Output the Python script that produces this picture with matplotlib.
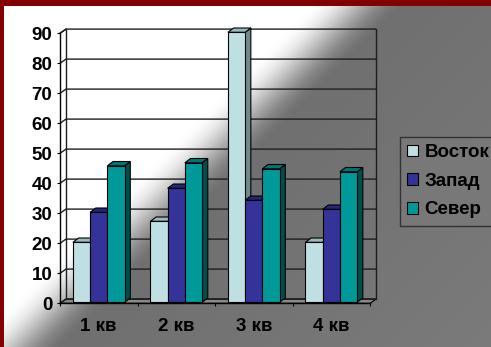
import numpy as np
import matplotlib
matplotlib.use("Agg")
import matplotlib.pyplot as plt
from matplotlib.patches import Polygon, Rectangle, Patch

# ---- data -------------------------------------------------------------
categories = ["1 кв", "2 кв", "3 кв", "4 кв"]
series_names = ["Восток", "Запад", "Север"]
vostok = [20, 27, 90, 20]
zapad = [30, 38, 34, 31]
sever = [45.5, 46.5, 44.5, 43.5]
yticks = list(range(0, 91, 10))

# ---- styling ----------------------------------------------------------
front_colors = ["#BEE0E3", "#333399", "#009999"]
top_colors = ["#9BB8BB", "#26267A", "#007575"]
side_colors = ["#6F8B8D", "#1C1C55", "#004F4F"]
FONT = "Liberation Sans"
FS = 13.5

W, H, DPI = 491, 347, 100
fig = plt.figure(figsize=(W / DPI, H / DPI), dpi=DPI)

# ---- slide background: diagonal white-to-grey gradient, red frame -----
bg = fig.add_axes([0, 0, 1, 1], zorder=-10)
yy, xx = np.mgrid[0:H, 0:W]
s = (xx + yy).astype(float)
t = np.clip((s - 315) / 95, 0, 1)
t = 0.5 - 0.5 * np.cos(np.pi * t)
g = 255 - t * (255 - 112)
g += np.clip((s - 410) / 400, 0, 1) * 10
img = np.dstack([g, g, g]) / 255
bg.imshow(img, extent=[0, W, H, 0], aspect="auto", interpolation="bilinear")
bg.set_xlim(0, W)
bg.set_ylim(H, 0)
bg.axis("off")
bg.add_patch(Rectangle((0, 0), W, 6, color="#830000", lw=0))
bg.add_patch(Rectangle((0, 0), 4, H, color="#830000", lw=0))

# ---- chart axes (front plane of the 3-D box) --------------------------
ax = fig.add_axes([60 / W, (H - 303.3) / H, 310 / W, 270 / H])
ncat = len(categories)
ymax = yticks[-1]
ax.set_xlim(0, ncat)
ax.set_ylim(0, ymax)
ax.patch.set_visible(False)
for side in ("top", "right"):
    ax.spines[side].set_visible(False)
for side in ("left", "bottom"):
    ax.spines[side].set_color("black")
    ax.spines[side].set_linewidth(1.0)
    ax.spines[side].set_zorder(6)

axw_px = ax.get_position().width * W
axh_px = ax.get_position().height * H
px_x = ncat / axw_px          # data units per pixel, horizontal
px_y = ymax / axh_px          # data units per pixel, vertical

wall_dx, wall_dy = 6 * px_x, 4.2 * px_y
bar_dx, bar_dy = 5.7 * px_x, 4.3 * px_y
lift = 1.0 * px_y

# floor
ax.add_patch(Polygon([(0, 0), (ncat, 0), (ncat + wall_dx, wall_dy), (wall_dx, wall_dy)],
                     closed=True, fc="#8A8A8A", ec="black", lw=0.9,
                     clip_on=False, zorder=1))
# gridlines on side wall and back wall
for v in yticks:
    ax.plot([0, wall_dx, ncat + wall_dx], [v, v + wall_dy, v + wall_dy],
            color="#1E1E1E", lw=1.0, clip_on=False, zorder=1.5,
            solid_capstyle="butt")
for xe in (wall_dx, ncat + wall_dx):
    ax.plot([xe, xe], [wall_dy, ymax + wall_dy], color="#1E1E1E", lw=1.0,
            clip_on=False, zorder=1.5)
ax.plot([0, wall_dx], [ymax, ymax + wall_dy], color="#1E1E1E", lw=1.0,
        clip_on=False, zorder=1.5)

# ---- 3-D columns --------------------------------------------------------
series = [vostok, zapad, sever]
bw = 1 / 4.5   # three bars + 150% gap
xc = np.arange(ncat) + 0.5
for j, vals in enumerate(series):
    z = 3 + j * 0.1
    bars = ax.bar(xc + (j - 1) * bw, vals, width=bw, bottom=lift,
                  color=front_colors[j], edgecolor="black", lw=0.8,
                  zorder=z + 0.05, clip_on=False)
    for r in bars:
        x0 = r.get_x()
        x1 = x0 + r.get_width()
        y0 = r.get_y()
        y1 = y0 + r.get_height()
        ax.add_patch(Polygon([(x1, y0), (x1 + bar_dx, y0 + bar_dy),
                              (x1 + bar_dx, y1 + bar_dy), (x1, y1)],
                             closed=True, fc=side_colors[j], ec="black",
                             lw=0.8, zorder=z, clip_on=False))
        ax.add_patch(Polygon([(x0, y1), (x1, y1), (x1 + bar_dx, y1 + bar_dy),
                              (x0 + bar_dx, y1 + bar_dy)],
                             closed=True, fc=top_colors[j], ec="black",
                             lw=0.8, zorder=z, clip_on=False))

# ---- ticks and labels -------------------------------------------------
tick_font = dict(family=FONT, size=FS, weight="bold")
ax.set_yticks(yticks)
ax.set_yticklabels([str(v) for v in yticks], fontdict=tick_font)
ax.set_xticks(range(ncat + 1))
ax.set_xticklabels([""] * (ncat + 1))
ax.set_xticks(xc, minor=True)
ax.set_xticklabels(categories, minor=True, fontdict=tick_font)
ax.tick_params(axis="y", direction="out", length=2.2, width=0.8, pad=3.2,
               colors="black")
ax.tick_params(axis="x", which="major", direction="out", length=2.2,
               width=0.8, colors="black")
ax.tick_params(axis="x", which="minor", length=0, pad=10.5, colors="black")

# ---- legend ------------------------------------------------------------
handles = [Patch(facecolor=front_colors[j], edgecolor="black", lw=0.8)
           for j in range(len(series_names))]
leg = fig.legend(handles, series_names, loc="upper left",
                 bbox_to_anchor=(400 / W, 1 - 137 / H),
                 prop=dict(family=FONT, size=FS, weight="bold"),
                 frameon=True, fancybox=False, framealpha=1,
                 facecolor="#787878", edgecolor="#333333",
                 handlelength=0.6, handleheight=0.6, handletextpad=0.32,
                 labelspacing=0.62, borderpad=0.38, borderaxespad=0)
leg.get_frame().set_linewidth(1.0)

fig.savefig("out.png", dpi=DPI)
